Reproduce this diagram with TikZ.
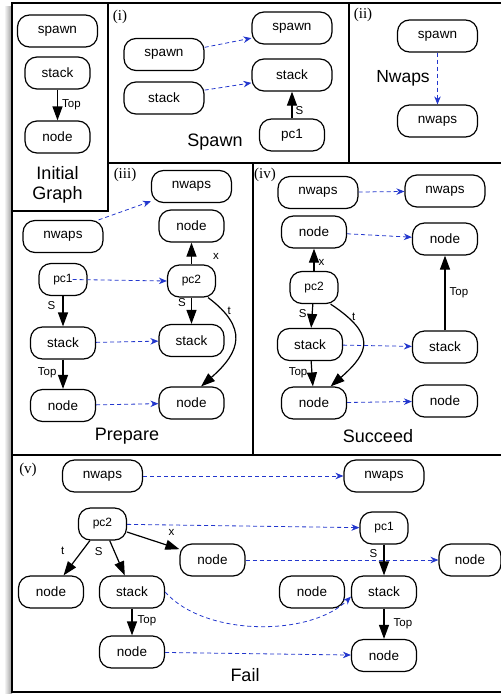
\documentclass[tikz,border=0pt]{standalone}
\usepackage{fontspec}
\setmainfont{Liberation Sans}
\newfontfamily\tagfont{Liberation Serif}
\usepackage{tikz}
\usetikzlibrary{arrows.meta, positioning}
\definecolor{linkblue}{RGB}{35,55,205}
\tikzset{
  graphblock/.style={
    rectangle, draw, rounded corners=12pt, line width=1.2pt,
    minimum width=65pt, minimum height=32pt, inner sep=0pt,
    font=\fontsize{13.5}{15}\selectfont
  },
  wideblock/.style={
    graphblock, minimum width=80pt
  },
  pcblock/.style={
    graphblock, minimum width=48pt, font=\fontsize{12}{14}\selectfont
  },
  edgearrow/.style={
    line width=1.2pt, -{Triangle[length=14pt,width=10pt]}
  },
  maparrow/.style={
    linkblue, line width=0.8pt, dash pattern=on 4pt off 3pt,
    -{Stealth[length=8pt,width=6.5pt]}
  },
  edgelabel/.style={
    font=\fontsize{11.5}{12}\selectfont, inner sep=1pt
  },
  paneltitle/.style={
    font=\fontsize{18}{20}\selectfont, align=center
  },
  paneltag/.style={
    font=\tagfont\fontsize{15}{16}\selectfont, inner sep=0pt
  },
  panelline/.style={
    line width=1.3pt
  }
}

\begin{document}
\begin{tikzpicture}[x=1pt, y=-1pt]
  \useasboundingbox (0,0) rectangle (501,694);
  % frame and panels
  \shade[left color=white, right color=black!40] (4,6) rectangle (12,693);
  \draw[panelline] (501,3) -- (12,3) -- (12,692) -- (501,692);
  \draw[panelline] (108,3) -- (108,211) -- (12,211);
  \draw[panelline] (108,163) -- (501,163);
  \draw[panelline] (349,3) -- (349,163);
  \draw[panelline] (253,163) -- (253,455);
  \draw[panelline] (12,455) -- (501,455);

  % initial graph
  \node[wideblock] (spawnI) at (57.5,31) {spawn};
  \node[graphblock, below of=spawnI, node distance=42pt] (stackI) {stack};
  \node[graphblock, below of=stackI, node distance=64pt] (nodeI) {node};
  \node[paneltitle] (titleI) at (57.5,185) {Initial\\Graph};
  \draw[edgearrow] (stackI) -- node[edgelabel, midway, right=3pt]{Top} (nodeI);

  % (i) spawn
  \node[paneltag] (tagA) at (120,17) {(i)};
  \node[wideblock] (spawnA) at (164,54.5) {spawn};
  \node[wideblock, below of=spawnA, node distance=43.5pt] (stackA) {stack};
  \node[wideblock] (spawnB) at (292,28) {spawn};
  \node[wideblock, below of=spawnB, node distance=47pt] (stackB) {stack};
  \node[graphblock, below of=stackB, node distance=60pt] (pcA) {pc1};
  \node[paneltitle] (titleA) at (215,142) {Spawn};
  \draw[maparrow] (spawnA.10) -- (spawnB.194);
  \draw[maparrow] (stackA.11) -- (stackB.191);
  \draw[edgearrow] (pcA) -- node[edgelabel, pos=0.3, right=2pt]{S} (stackB);

  % (ii) nwaps
  \node[paneltag] (tagB) at (363,15) {(ii)};
  \node[wideblock] (spawnC) at (437.5,36) {spawn};
  \node[wideblock, below of=spawnC, node distance=85pt] (nwapsC) {nwaps};
  \node[paneltitle, font=\fontsize{17.5}{20}\selectfont] (titleB) at (403,78) {Nwaps};
  \draw[maparrow] (spawnC) -- (nwapsC);

  % (iii) prepare
  \node[paneltag] (tagD) at (125,175) {(iii)};
  \node[wideblock] (nwapsE) at (63,236.5) {nwaps};
  \node[pcblock, below of=nwapsE, node distance=43pt] (pc1D) {pc1};
  \node[graphblock, below of=pc1D, node distance=63.5pt] (stackD) {stack};
  \node[graphblock, below of=stackD, node distance=62.5pt] (nodeD) {node};
  \node[wideblock] (nwapsD) at (191.5,186.5) {nwaps};
  \node[graphblock, below of=nwapsD, node distance=39.5pt] (nodeDx) {node};
  \node[pcblock, below of=nodeDx, node distance=55pt] (pc2D) {pc2};
  \node[graphblock, below of=pc2D, node distance=59.5pt] (stackE) {stack};
  \node[graphblock, below of=stackE, node distance=62.5pt] (nodeE) {node};
  \node[paneltitle] (titleD) at (127,436) {Prepare};

  \draw[edgearrow] (pc1D) -- node[edgelabel, pos=0.3, left=6pt]{S} (stackD);
  \draw[edgearrow] (stackD) -- node[edgelabel, pos=0.45, left=5pt]{Top} (nodeD);
  \draw[edgearrow] (pc2D) -- node[edgelabel, pos=0.35, right=20pt]{x} (nodeDx);
  \draw[edgearrow] (pc2D) -- node[edgelabel, pos=0.2, left=4pt]{S} (stackE);
  \draw[edgearrow] (pc2D.-45) .. controls +(40,30) and +(40,-35) .. node[edgelabel, pos=0.15, right=3pt]{t} (nodeE.60);
  \draw[maparrow] (nwapsE.25) -- (nwapsD.200);
  \draw[maparrow] ([xshift=-15pt]pc1D.east) -- (pc2D.west);
  \draw[maparrow] (stackD) -- (stackE);
  \draw[maparrow] (nodeD) -- (nodeE);

  % (iv) succeed
  \node[paneltag] (tagF) at (265,175) {(iv)};
  \node[wideblock] (nwapsF) at (318,192.5) {nwaps};
  \node[graphblock] (nodeF) at (314,232) {node};
  \node[pcblock, below of=nodeF, node distance=55.5pt] (pc2F) {pc2};
  \node[graphblock, below of=pc2F, node distance=57pt, xshift=-4pt] (stackF) {stack};
  \node[graphblock, below of=pc2F, node distance=115.5pt] (nodeF2) {node};
  \node[wideblock] (nwapsG) at (445,191) {nwaps};
  \node[graphblock, below of=nwapsG, node distance=48pt] (nodeG) {node};
  \node[graphblock, below of=nodeG, node distance=108pt] (stackG) {stack};
  \node[graphblock, below of=stackG, node distance=54pt] (nodeG2) {node};
  \node[paneltitle] (titleF) at (378,436) {Succeed};

  \draw[edgearrow] (pc2F) -- node[edgelabel, pos=0.4, right=3pt]{x} (nodeF);
  \draw[edgearrow] (pc2F) -- node[edgelabel, pos=0.4, left=4pt]{S} (stackF);
  \draw[edgearrow] (stackF) -- node[edgelabel, pos=0.45, left=3pt]{Top} (nodeF2);
  \draw[edgearrow] (pc2F.-45) .. controls +(45,30) and +(40,-35) .. node[edgelabel, pos=0.15, right=3pt]{t} (nodeF2.45);
  \draw[edgearrow] (stackG) -- node[edgelabel, midway, right=3pt]{Top} (nodeG);
  \draw[maparrow] (nwapsF) -- (nwapsG);
  \draw[maparrow] (nodeF) -- (nodeG);
  \draw[maparrow] (stackF) -- (stackG);
  \draw[maparrow] (nodeF2) -- (nodeG2);

  % (v) fail
  \node[paneltag] (tagH) at (28,470) {(v)};
  \node[wideblock] (nwapsH) at (102.5,476) {nwaps};
  \node[pcblock, below of=nwapsH, node distance=48pt] (pc2H) {pc2};
  \node[graphblock] (nodeHx) at (212.5,560) {node};
  \node[graphblock] (nodeHt) at (51,592) {node};
  \node[graphblock] (stackH) at (132,592) {stack};
  \node[graphblock, below of=stackH, node distance=60pt] (nodeH) {node};
  \node[wideblock] (nwapsK) at (384,476) {nwaps};
  \node[pcblock, below of=nwapsK, node distance=52pt] (pc1K) {pc1};
  \node[graphblock, below of=pc1K, node distance=64pt] (stackK) {stack};
  \node[graphblock, below of=stackK, node distance=63.5pt] (nodeK) {node};
  \node[graphblock, left of=stackK, node distance=72pt] (nodeKl) {node};
  \node[graphblock, minimum width=62pt] (nodeKx) at (470,560) {node};
  \node[paneltitle] (titleH) at (245,675) {Fail};

  \draw[edgearrow] (pc2H) -- node[edgelabel, pos=0.3, left=16pt]{t} (nodeHt);
  \draw[edgearrow] (pc2H) -- node[edgelabel, pos=0.3, left=10pt]{S} (stackH);
  \draw[edgearrow] (pc2H) -- node[edgelabel, pos=0.85, above=10pt]{x} (nodeHx);
  \draw[edgearrow] (stackH) -- node[edgelabel, pos=0.45, right=4pt]{Top} (nodeH);
  \draw[edgearrow] (pc1K) -- node[edgelabel, pos=0.3, left=5pt]{S} (stackK);
  \draw[edgearrow] (stackK) -- node[edgelabel, midway, right=8pt]{Top} (nodeK);
  \draw[maparrow] (nwapsH) -- (nwapsK);
  \draw[maparrow] (pc2H) -- (pc1K);
  \draw[maparrow] (nodeHx) -- (nodeKx);
  \draw[maparrow] (stackH.east) .. controls +(40,45) and +(-40,40) .. (stackK.188);
  \draw[maparrow] (nodeH) -- (nodeK);
\end{tikzpicture}
\end{document}
